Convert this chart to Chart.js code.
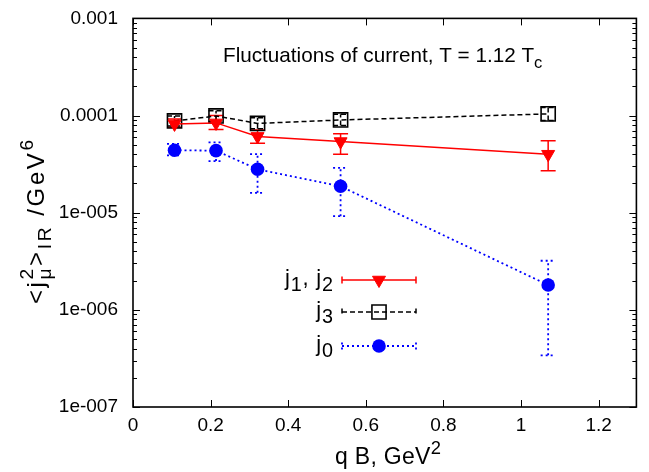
<!DOCTYPE html>
<html>
<head>
<meta charset="utf-8">
<script src="https://cdn.jsdelivr.net/npm/chart.js@4/dist/chart.umd.min.js"></script>
<style>
  html, body { margin: 0; padding: 0; background: #fff; }
  #wrap { width: 649px; height: 472px; }
</style>
</head>
<body>
<div id="wrap"><canvas id="chart"></canvas></div>
<script>
// qB in GeV^2
const qB = [0.107, 0.214, 0.321, 0.535, 1.07];

// j1, j2
const j12 = [8.2e-5, 8.4e-5, 6.1e-5, 5.4e-5, 4.0e-5];
const j12Lo = [7.6e-5, 7.2e-5, 5.2e-5, 4.0e-5, 2.7e-5];
const j12Hi = [9.2e-5, 1.0e-4, 7.1e-5, 6.5e-5, 5.5e-5];

// j3
const j3 = [8.8e-5, 9.9e-5, 8.3e-5, 9.0e-5, 1.04e-4];
const j3Lo = [7.8e-5, 8.7e-5, 7.3e-5, 7.9e-5, 8.9e-5];
const j3Hi = [9.9e-5, 1.12e-4, 9.5e-5, 1.03e-4, 1.21e-4];

// j0
const j0 = [4.4e-5, 4.35e-5, 2.8e-5, 1.87e-5, 1.8e-6];
const j0Lo = [3.9e-5, 3.4e-5, 1.6e-5, 9.2e-6, 3.4e-7];
const j0Hi = [5.1e-5, 5.3e-5, 4.0e-5, 2.9e-5, 3.2e-6];

const xTicks = [0, 0.2, 0.4, 0.6, 0.8, 1, 1.2];
const yTicks = [1e-7, 1e-6, 1e-5, 1e-4, 1e-3];
const yTickLabels = ["1e-007", "1e-006", "1e-005", "0.0001", "0.001"];

const FONT = '"Liberation Sans", Arial, Helvetica, sans-serif';
const RED = "#ff0000";
const BLUE = "#0000ff";
const CAP = 7.5;

// text with sub/superscripts: {t}, {sub}, {sup} or {sub, sup} stacked
// drawn glyph by glyph so extra spacing (ls) can be added like gnuplot does
function textWidth(ctx, s, px, ls) {
  ctx.font = px + "px " + FONT;
  let w = 0;
  for (const ch of s) w += ctx.measureText(ch).width + ls;
  return w;
}

function partWidth(ctx, p, o) {
  if (p.t !== undefined) return textWidth(ctx, p.t, o.size, o.ls);
  const px = o.size * o.sub;
  const a = p.sub ? textWidth(ctx, p.sub, px, o.ls) : 0;
  const b = p.sup ? textWidth(ctx, p.sup, px, o.ls) : 0;
  return Math.max(a, b);
}

function richWidth(ctx, parts, o) {
  let w = 0;
  for (const p of parts) w += partWidth(ctx, p, o);
  return w - o.ls;
}

function drawText(ctx, s, x, y, px, ls) {
  ctx.font = px + "px " + FONT;
  for (const ch of s) {
    ctx.fillText(ch, x, y);
    x += ctx.measureText(ch).width + ls;
  }
}

function drawRich(ctx, parts, x, y, o) {
  ctx.textBaseline = "alphabetic";
  ctx.textAlign = "left";
  for (const p of parts) {
    const w = partWidth(ctx, p, o);
    if (p.t !== undefined) {
      drawText(ctx, p.t, x, y, o.size, o.ls);
    } else {
      const px = o.size * o.sub;
      if (p.sub) drawText(ctx, p.sub, x, y + o.size * 0.28, px, o.ls);
      if (p.sup) drawText(ctx, p.sup, x, y - o.size * 0.45, px, o.ls);
    }
    x += w;
  }
}

function marker(ctx, ds, x, y) {
  ctx.save();
  ctx.setLineDash([]);
  ctx.fillStyle = ds.pointBackgroundColor;
  ctx.strokeStyle = ds.pointBorderColor;
  ctx.lineWidth = ds.pointBorderWidth;
  Chart.helpers.drawPoint(ctx, {
    pointStyle: ds.pointStyle,
    rotation: ds.pointRotation || 0,
    radius: ds.pointRadius,
    borderWidth: ds.pointBorderWidth
  }, x, y);
  ctx.restore();
}

const frame = {
  id: "frame",
  beforeDatasetsDraw(chart) {
    const { ctx, chartArea: a, scales: { x, y } } = chart;
    ctx.save();
    ctx.strokeStyle = "#000";
    ctx.lineWidth = 1;
    ctx.beginPath();
    for (const v of xTicks) {
      const px = Math.round(x.getPixelForValue(v)) + 0.5;
      ctx.moveTo(px, a.bottom);
      ctx.lineTo(px, a.bottom - 7);
      ctx.moveTo(px, a.top);
      ctx.lineTo(px, a.top + 7);
    }
    for (let e = -7; e < -3; e++) {
      for (let m = 1; m < 10; m++) {
        const py = Math.round(y.getPixelForValue(m * Math.pow(10, e))) + 0.5;
        const len = m === 1 ? 7 : 4;
        ctx.moveTo(a.left, py);
        ctx.lineTo(a.left + len, py);
        ctx.moveTo(a.right - 1, py);
        ctx.lineTo(a.right - 1 - len, py);
      }
    }
    ctx.stroke();
    ctx.lineWidth = 1.6;
    ctx.strokeRect(a.left, a.top, a.right - a.left - 1, a.bottom - a.top);
    ctx.restore();
  }
};

const errorBars = {
  id: "errorBars",
  beforeDatasetsDraw(chart) {
    const { ctx, scales: { x, y } } = chart;
    for (const ds of chart.data.datasets) {
      ctx.save();
      ctx.strokeStyle = ds.borderColor;
      ctx.lineWidth = ds.borderWidth;
      ctx.setLineDash(ds.borderDash || []);
      ds.data.forEach((p, i) => {
        const px = x.getPixelForValue(p.x);
        const y1 = y.getPixelForValue(ds.lo[i]);
        const y2 = y.getPixelForValue(ds.hi[i]);
        ctx.beginPath();
        ctx.moveTo(px, y1);
        ctx.lineTo(px, y2);
        ctx.moveTo(px - CAP, y1);
        ctx.lineTo(px + CAP, y1);
        ctx.moveTo(px - CAP, y2);
        ctx.lineTo(px + CAP, y2);
        ctx.stroke();
      });
      ctx.restore();
    }
  }
};

const labels = {
  id: "labels",
  afterDraw(chart) {
    const ctx = chart.ctx;
    ctx.save();
    ctx.fillStyle = "#000";

    // title inside the plot
    const tt = { size: 20.7, sub: 0.8, ls: 0 };
    drawRich(ctx, [{ t: "Fluctuations of current, T = 1.12 T" }, { sub: "c" }], 223, 62, tt);

    // x axis title
    const xo = { size: 23, sub: 0.8, ls: 0.3 };
    const xt = [{ t: "q B, GeV" }, { sup: "2" }];
    drawRich(ctx, xt, 388 - richWidth(ctx, xt, xo) / 2, 464, xo);

    // y axis title, rotated
    const yo = { size: 24, sub: 0.8, ls: 2.6 };
    const yt = [{ t: "<j" }, { sub: "\u03bc", sup: "2" }, { t: ">" }, { sub: "IR" }, { t: " /GeV" }, { sup: "6" }];
    ctx.save();
    ctx.translate(44, 222);
    ctx.rotate(-Math.PI / 2);
    drawRich(ctx, yt, -richWidth(ctx, yt, yo) / 2, 0, yo);
    ctx.restore();

    // key
    const ko = { size: 22, sub: 0.9, ls: 0.8 };
    const rows = [
      [{ t: "j" }, { sub: "1" }, { t: ", j" }, { sub: "2" }],
      [{ t: "j" }, { sub: "3" }],
      [{ t: "j" }, { sub: "0" }]
    ];
    const rowY = [280, 312, 346];
    chart.data.datasets.forEach((ds, i) => {
      const ry = rowY[i];
      ctx.fillStyle = "#000";
      drawRich(ctx, rows[i], 333 - richWidth(ctx, rows[i], ko), ry + 5, ko);
      ctx.save();
      ctx.strokeStyle = ds.borderColor;
      ctx.lineWidth = ds.borderWidth;
      ctx.setLineDash(ds.borderDash || []);
      ctx.beginPath();
      ctx.moveTo(342, ry);
      ctx.lineTo(416, ry);
      ctx.moveTo(342, ry - 3.5);
      ctx.lineTo(342, ry + 3.5);
      ctx.moveTo(416, ry - 3.5);
      ctx.lineTo(416, ry + 3.5);
      ctx.stroke();
      ctx.restore();
      marker(ctx, ds, 379, ry);
    });
    ctx.restore();
  }
};

function series(label, xs, ys, lo, hi, style) {
  return Object.assign({
    label: label,
    data: xs.map((x, i) => ({ x: x, y: ys[i] })),
    lo: lo,
    hi: hi,
    showLine: true,
    tension: 0,
    fill: false,
    clip: false
  }, style);
}

new Chart(document.getElementById("chart"), {
  type: "line",
  data: {
    datasets: [
      series("j1, j2", qB, j12, j12Lo, j12Hi, {
        borderColor: RED, backgroundColor: RED, borderWidth: 1.5,
        pointStyle: "triangle", pointRotation: 180, pointRadius: 7.5,
        pointBackgroundColor: RED, pointBorderColor: RED, pointBorderWidth: 1
      }),
      series("j3", qB, j3, j3Lo, j3Hi, {
        borderColor: "#000", backgroundColor: "#000", borderWidth: 1.5, borderDash: [5, 3],
        pointStyle: "rect", pointRadius: 10,
        pointBackgroundColor: "rgba(0,0,0,0)", pointBorderColor: "#000", pointBorderWidth: 1.6
      }),
      series("j0", qB, j0, j0Lo, j0Hi, {
        borderColor: BLUE, backgroundColor: BLUE, borderWidth: 1.8, borderDash: [2, 3],
        pointStyle: "circle", pointRadius: 6.8,
        pointBackgroundColor: BLUE, pointBorderColor: BLUE, pointBorderWidth: 0
      })
    ]
  },
  options: {
    responsive: true,
    maintainAspectRatio: false,
    animation: false,
    events: [],
    layout: { padding: { top: 16, left: 0, right: 0, bottom: 0 } },
    plugins: {
      legend: { display: false },
      tooltip: { enabled: false }
    },
    scales: {
      x: {
        type: "linear",
        min: 0,
        max: 1.3,
        grid: { display: false },
        border: { display: false },
        afterFit(s) { s.height = 65; },
        afterBuildTicks(s) { s.ticks = xTicks.map(v => ({ value: v })); },
        ticks: {
          padding: -1,
          maxRotation: 0,
          color: "#000",
          font: { family: FONT, size: 19 },
          callback: v => String(v)
        }
      },
      y: {
        type: "logarithmic",
        min: 1e-7,
        max: 1e-3,
        grid: { display: false },
        border: { display: false },
        afterFit(s) { s.width = 133; },
        afterBuildTicks(s) { s.ticks = yTicks.map(v => ({ value: v })); },
        ticks: {
          padding: 7,
          color: "#000",
          font: { family: FONT, size: 19 },
          callback: v => yTickLabels[yTicks.indexOf(v)]
        }
      }
    }
  },
  plugins: [frame, errorBars, labels]
});
</script>
</body>
</html>
